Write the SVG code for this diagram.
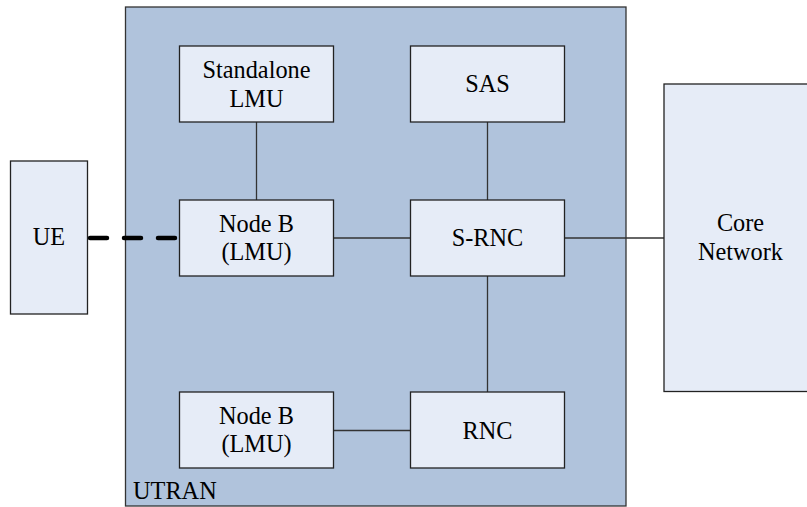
<svg xmlns="http://www.w3.org/2000/svg" width="807" height="507" viewBox="0 0 807 507">
<style>
.box{fill:#E6ECF7;stroke:#222;stroke-width:1.3}
.t{font-size:24.3px;fill:#000;text-anchor:middle}
.c{stroke:#333;stroke-width:1.3;fill:none}
</style>
<rect width="807" height="507" fill="#fff"/>
<g font-family="Liberation Serif, serif">
<g id="utran">
<rect x="125.5" y="7" width="500.5" height="499" fill="#B0C3DC" stroke="#333" stroke-width="1.3"/>
<text class="t" x="133" y="498.5" style="text-anchor:start">UTRAN</text>
</g>
<g id="connectors">
<line class="c" x1="256.5" y1="122" x2="256.5" y2="200"/>
<line class="c" x1="487.5" y1="122" x2="487.5" y2="200"/>
<line class="c" x1="333" y1="238" x2="410" y2="238"/>
<line class="c" x1="564" y1="238" x2="664" y2="238"/>
<line class="c" x1="487.5" y1="276" x2="487.5" y2="392"/>
<line class="c" x1="333" y1="430.5" x2="410" y2="430.5"/>
<line x1="90" y1="238" x2="179" y2="238" stroke="#000" stroke-width="4.5" stroke-linecap="round" stroke-dasharray="17 17"/>
</g>
<g id="ue">
<rect class="box" x="10.5" y="161" width="77" height="153"/>
<text class="t" x="49" y="245">UE</text>
</g>
<g id="standalone-lmu">
<rect class="box" x="179.5" y="46" width="154" height="76"/>
<text class="t" x="256.5" y="77.7">Standalone</text>
<text class="t" x="256.5" y="106.5">LMU</text>
</g>
<g id="sas">
<rect class="box" x="410.5" y="46" width="154" height="76"/>
<text class="t" x="487.5" y="92">SAS</text>
</g>
<g id="node-b-1">
<rect class="box" x="179.5" y="200" width="154" height="76"/>
<text class="t" x="256.5" y="231.7">Node B</text>
<text class="t" x="256.5" y="260.3">(LMU)</text>
</g>
<g id="s-rnc">
<rect class="box" x="410.5" y="200" width="154" height="76"/>
<text class="t" x="487.5" y="246">S-RNC</text>
</g>
<g id="node-b-2">
<rect class="box" x="179.5" y="392" width="154" height="76"/>
<text class="t" x="256.5" y="423.7">Node B</text>
<text class="t" x="256.5" y="452.3">(LMU)</text>
</g>
<g id="rnc">
<rect class="box" x="410.5" y="392" width="154" height="76"/>
<text class="t" x="487.5" y="438.5">RNC</text>
</g>
<g id="core-network">
<rect class="box" x="664" y="84" width="160" height="307.5"/>
<text class="t" x="740.5" y="231">Core</text>
<text class="t" x="740.5" y="259.5">Network</text>
</g>
</g>
</svg>
